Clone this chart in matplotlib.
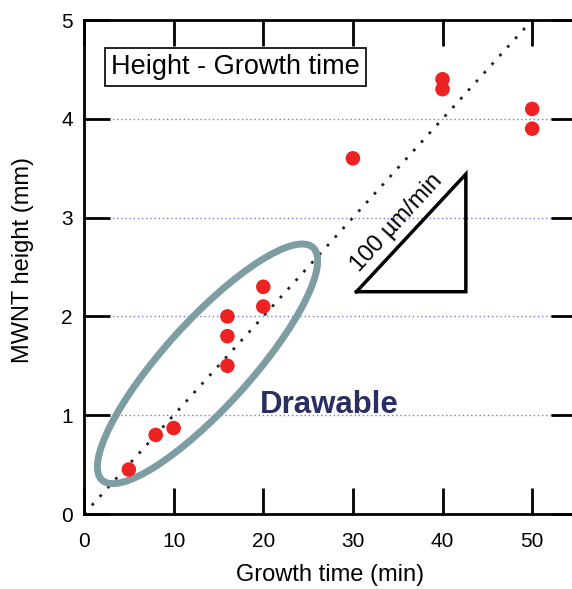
import matplotlib.pyplot as plt
import matplotlib.patches as mpatches
import matplotlib.transforms as mtransforms

plt.rcParams['font.family'] = ['Liberation Sans', 'DejaVu Sans']

# data
growth_time = [5, 8, 10, 16, 16, 16, 20, 20, 30, 40, 40, 50, 50]
height_mm = [0.45, 0.80, 0.87, 1.50, 1.80, 2.00, 2.10, 2.30, 3.60, 4.30, 4.40, 3.90, 4.10]
rate_line_x = [0, 50]
rate_line_y = [0, 5]
triangle_x = [30.4, 42.6, 42.6, 30.4]
triangle_y = [2.25, 2.25, 3.44, 2.25]
grid_levels = [1, 2, 3, 4]

fig = plt.figure(figsize=(5.72, 5.89), dpi=100)
ax = fig.add_axes([84/572, 1 - 514/589, (577 - 84)/572, (514 - 20)/589])
ax.set_xlim(0, 55)
ax.set_ylim(0, 5)

# dotted blue grid
for lv in grid_levels:
    ax.plot([2.2, 53.5], [lv, lv], linestyle=(0, (1, 2)), color='#7777dd', lw=1.0, zorder=1)

# 100 um/min reference line
ax.plot(rate_line_x, rate_line_y, linestyle=(0, (1, 3.2)), color='#222222', lw=2.0, zorder=2)

# data points
ax.scatter(growth_time, height_mm, s=110, color='#ee2222', edgecolors='none', zorder=3)

# slope triangle
ax.plot(triangle_x, triangle_y, color='black', lw=2.5, solid_joinstyle='miter', zorder=2)
ax.text(34.9, 2.95, '100 µm/min', rotation=47.5, ha='center', va='center',
        fontsize=17, rotation_mode='anchor')

# ellipse around the drawable points (drawn in pixel space)
fig.canvas.draw()
cx, cy = ax.transData.transform((13.78, 1.52))
tr = mtransforms.Affine2D().scale(157, 43).rotate_deg(47.8).translate(cx, cy)
ell = mpatches.Ellipse((0, 0), 2, 2, fill=False, edgecolor='#7e9da2', lw=5,
                       transform=tr, zorder=2)
ax.add_patch(ell)

ax.text(19.6, 1.1, 'Drawable', fontsize=22.5, fontweight='bold', color='#2a2f62',
        ha='left', va='center', zorder=4)

ax.text(16.9, 4.52, 'Height - Growth time', fontsize=19.5, ha='center', va='center',
        bbox=dict(boxstyle='square,pad=0.22', facecolor='white', edgecolor='black', lw=1.2))

# axes styling
for sp in ax.spines.values():
    sp.set_linewidth(2)
ax.set_xticks([0, 10, 20, 30, 40, 50])
ax.set_yticks([0, 1, 2, 3, 4, 5])
ax.tick_params(direction='in', length=19, width=2, labelsize=15, top=True, right=True, pad=8)
ax.tick_params(axis='x', pad=13)

ax.set_xlabel('Growth time (min)', fontsize=17, labelpad=9)
ax.set_ylabel('MWNT height (mm)', fontsize=17)
ax.yaxis.set_label_coords(-0.102, 0.515)

fig.savefig('out.png', dpi=100)
